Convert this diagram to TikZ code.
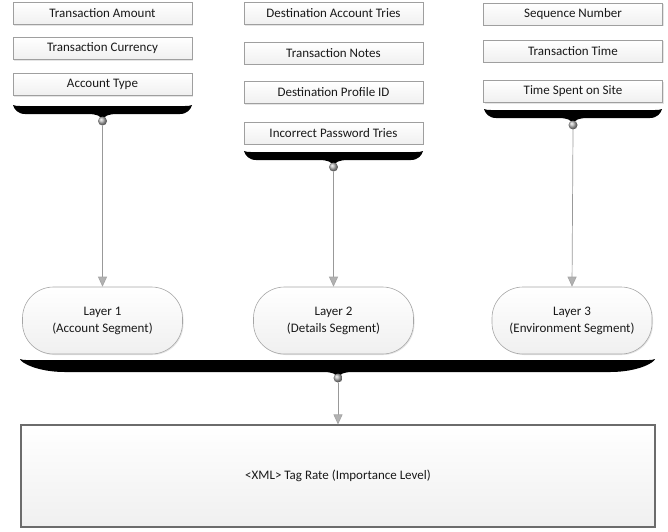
\documentclass[tikz,border=0pt]{standalone}
\usepackage{fontspec}
\setmainfont{Carlito}
\usetikzlibrary{arrows.meta,shadows}
\newcommand{\mybrace}[6]{%
  \fill[black] (#1,{#3-1}) .. controls ({#1+3},#3) .. ({#1+8},#3) -- ({#2-8},#3) .. controls ({#2-3},#3) .. (#2,{#3-1})
    .. controls ({#2-1},{#3+3}) and ({#2-#6*0.4},#4) .. ({#2-#6},#4)
    -- ({#5+15},#4) .. controls ({#5+5},#4) and ({#5+2},{#4+2}) .. (#5,{#4+6})
    .. controls ({#5-2},{#4+2}) and ({#5-5},#4) .. ({#5-15},#4)
    -- ({#1+#6},#4) .. controls ({#1+#6*0.4},#4) and ({#1+1},{#3+3}) .. (#1,{#3-1}) -- cycle;}
\tikzset{
  every node/.style={font=\fontsize{13}{17}\selectfont, text=black!90},
  field/.style={draw=gray!75, line width=0.6pt, top color=white, bottom color=gray!12,
    minimum width=179pt, minimum height=22pt, inner sep=0pt,
    drop shadow={shadow xshift=1pt, shadow yshift=-1pt, fill=gray!50, opacity=0.4}},
  layer/.style={draw=gray!70, line width=0.6pt, rounded corners=31pt, top color=white, bottom color=gray!12,
    minimum width=160pt, minimum height=67pt, inner sep=0pt, align=center,
    drop shadow={shadow xshift=1pt, shadow yshift=-1pt, fill=gray!50, opacity=0.4}},
  bigbox/.style={draw=gray!85!black, line width=1.1pt, top color=white, bottom color=gray!12,
    minimum width=634pt, minimum height=102pt, inner sep=0pt},
  ballnode/.style={circle, minimum size=9pt, inner sep=0pt, shading=ball, ball color=gray!60},
  arr/.style={draw=gray!80, line width=0.7pt, -{Triangle[width=9pt,length=10pt,fill=gray!60,color=gray!70]}}
}
\begin{document}
\begin{tikzpicture}[x=1pt,y=-1pt]
\useasboundingbox (0,0) rectangle (668,531);
% column 1
\node[field] (a1) at (102.5,13.5) {Transaction Amount};
\node[field] (a2) at (102.5,48.5) {Transaction Currency};
\node[field] (a3) at (102.5,84.5) {Account Type};
% column 2
\node[field] (b1) at (333.5,13.5) {Destination Account Tries};
\node[field] (b2) at (333.5,53) {Transaction Notes};
\node[field] (b3) at (333.5,92.5) {Destination Profile ID};
\node[field] (b4) at (333.5,133) {Incorrect Password Tries};
% column 3
\node[field] (c1) at (573,14) {Sequence Number};
\node[field] (c2) at (573,51) {Transaction Time};
\node[field] (c3) at (573,91.5) {Time Spent on Site};
% braces
\mybrace{13}{192}{106}{114}{102.5}{12}
\mybrace{244}{423}{152}{160}{333.5}{12}
\mybrace{484}{662}{110}{118}{573}{12}
\mybrace{20}{655}{360}{372}{338}{45}
% balls
\node[ballnode] (k1) at (102.5,121) {};
\node[ballnode] (k2) at (333.5,167) {};
\node[ballnode] (k3) at (573,125) {};
\node[ballnode] (k4) at (338,378) {};
% layers
\node[layer] (L1) at (102.5,320.5) {Layer 1\\(Account Segment)};
\node[layer] (L2) at (333.5,320.5) {Layer 2\\(Details Segment)};
\node[layer] (L3) at (572,320.5) {Layer 3\\(Environment Segment)};
% big box
\node[bigbox] (X) at (338,476) {<XML> Tag Rate (Importance Level)};
% connectors
\draw[arr] (k1.south) -- (L1.north);
\draw[arr] (k2.south) -- (L2.north);
\draw[arr] (k3.south) -- (L3.north);
\draw[arr] (k4.south) -- (X.north);
\end{tikzpicture}
\end{document}
